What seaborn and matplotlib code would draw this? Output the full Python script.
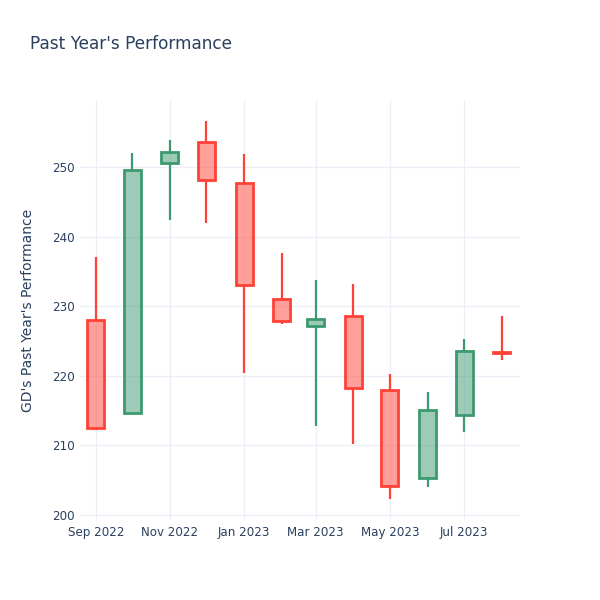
import pandas as pd
import numpy as np
import matplotlib
matplotlib.use("Agg")
import matplotlib.pyplot as plt
import matplotlib.dates as mdates
import seaborn as sns

# Monthly OHLC values
months = ["2022-09-01", "2022-10-01", "2022-11-01", "2022-12-01", "2023-01-01", "2023-02-01",
          "2023-03-01", "2023-04-01", "2023-05-01", "2023-06-01", "2023-07-01", "2023-08-01"]
opens = [228.0, 214.6, 250.5, 253.5, 247.7, 231.1, 227.1, 228.6, 218.0, 205.3, 214.4, 223.4]
highs = [237.1, 252.0, 253.8, 256.6, 251.8, 237.6, 233.7, 233.2, 220.3, 217.7, 225.3, 228.6]
lows = [212.2, 214.6, 242.4, 241.9, 220.4, 227.5, 212.8, 210.2, 202.3, 204.0, 211.9, 222.3]
closes = [212.5, 249.6, 252.2, 248.1, 233.0, 227.9, 228.1, 218.3, 204.2, 215.1, 223.6, 223.25]

df = pd.DataFrame({"date": pd.to_datetime(months), "open": opens, "high": highs,
                   "low": lows, "close": closes})
df["up"] = df["close"] >= df["open"]
df["body_lo"] = df[["open", "close"]].min(axis=1)
df["body_hi"] = df[["open", "close"]].max(axis=1)

sns.set_theme(style="whitegrid")
plt.rcParams["font.family"] = ["DejaVu Sans"]

text_col = "#2a3f5f"
grid_col = "#EBF0F8"
inc_col = "#3D9970"
dec_col = "#FF4136"

fig = plt.figure(figsize=(6, 6), dpi=100)
ax = fig.add_axes([80 / 600, 80 / 600, 440 / 600, 420 / 600])
ax.set_facecolor("white")

for up, col in [(True, inc_col), (False, dec_col)]:
    sub = df[df["up"] == up]
    ax.vlines(sub["date"], sub["low"], sub["body_lo"], color=col, linewidth=1.6, zorder=3)
    ax.vlines(sub["date"], sub["body_hi"], sub["high"], color=col, linewidth=1.6, zorder=3)
    ax.bar(sub["date"], sub["body_hi"] - sub["body_lo"], bottom=sub["body_lo"],
           width=14, color=matplotlib.colors.to_rgba(col, 0.5), edgecolor=col,
           linewidth=2, zorder=4)

ax.set_xlim(pd.Timestamp("2022-08-19"), pd.Timestamp("2023-08-16"))
ax.set_ylim(199.3, 259.6)
ax.set_yticks(np.arange(200, 251, 10))
ax.xaxis.set_major_locator(mdates.MonthLocator(bymonth=[1, 3, 5, 7, 9, 11]))
ax.xaxis.set_major_formatter(mdates.DateFormatter("%b %Y"))

ax.grid(True, color=grid_col, linewidth=1)
for s in ax.spines.values():
    s.set_visible(False)
ax.tick_params(axis="both", colors=text_col, labelsize=8.6, length=0, pad=4)

ax.set_ylabel("GD's Past Year's Performance", color=text_col, fontsize=10, labelpad=12)
fig.text(30 / 600, 1 - 44 / 600, "Past Year's Performance", color=text_col,
         fontsize=12.2, va="center", ha="left")

fig.savefig("out.png", dpi=100, facecolor="white")
